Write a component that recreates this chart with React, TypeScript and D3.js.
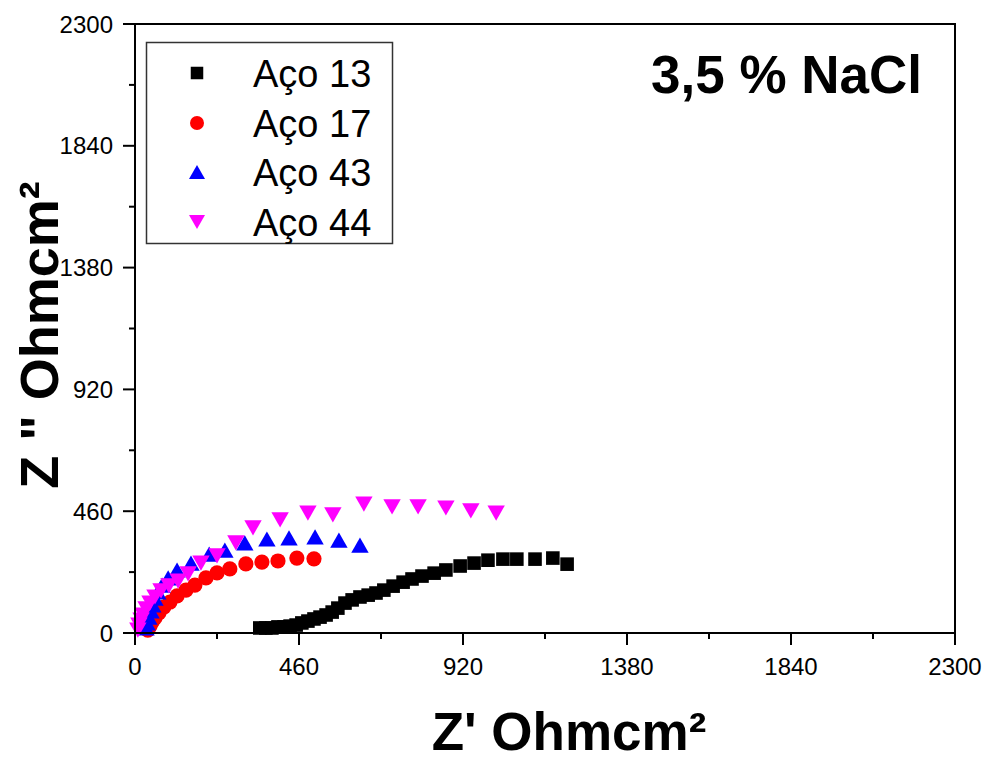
import React from "react";
import * as d3 from "d3";

const W = 989;
const H = 762;

// Nyquist data (Z' , -Z'') in Ohm·cm²
const aco13X = [350, 367, 384, 401, 418, 435, 452, 468, 485, 502, 519, 536, 553, 569, 589, 609, 631, 654, 676, 698, 724, 752, 777, 805, 839, 872, 912, 951, 990, 1032, 1071, 1122, 1172, 1212];
const aco13Y = [19, 19, 19, 23, 23, 26, 30, 38, 45, 53, 60, 68, 79, 94, 113, 125, 136, 143, 151, 162, 177, 192, 204, 215, 226, 238, 253, 264, 275, 279, 279, 279, 283, 260];

const aco17X = [36, 42, 48, 56, 67, 81, 98, 118, 143, 168, 199, 230, 266, 311, 356, 401, 454, 502];
const aco17Y = [11, 26, 42, 57, 76, 98, 117, 140, 162, 181, 208, 227, 242, 261, 268, 272, 283, 280];

const aco43X = [31, 34, 39, 45, 50, 56, 64, 76, 93, 118, 157, 208, 252, 308, 370, 432, 505, 572, 631];
const aco43Y = [19, 38, 60, 83, 106, 132, 155, 181, 208, 238, 264, 298, 313, 340, 355, 359, 363, 351, 332];

const aco44X = [8, 11, 17, 22, 31, 42, 56, 73, 95, 121, 149, 185, 230, 283, 331, 407, 485, 555, 642, 721, 794, 872, 942, 1013];
const aco44Y = [11, 30, 49, 68, 91, 113, 136, 159, 178, 196, 223, 264, 291, 340, 397, 427, 453, 446, 487, 476, 476, 472, 461, 453];

const seriesNames = ["Aço 13", "Aço 17", "Aço 43", "Aço 44"];
const seriesColors = ["#000000", "#ff0000", "#0000ff", "#ff00ff"];
const seriesShapes = ["square", "circle", "triangleUp", "triangleDown"];

const majorTicks = [0, 460, 920, 1380, 1840, 2300];
const minorTicks = [230, 690, 1150, 1610, 2070];

const FONT = "Arial, 'Liberation Sans', Helvetica, sans-serif";

function markerPath(shape: string, scale: number): string {
  if (shape === "square") {
    const h = 6.8 * scale;
    return `M${-h},${-h}H${h}V${h}H${-h}Z`;
  }
  if (shape === "circle") {
    const r = 7.6 * scale;
    return `M${r},0A${r},${r},0,1,1,${-r},0A${r},${r},0,1,1,${r},0Z`;
  }
  const w = 8.7 * scale;
  const hh = 7.6 * scale;
  if (shape === "triangleUp") {
    return `M0,${-hh}L${w},${hh}L${-w},${hh}Z`;
  }
  return `M0,${hh}L${w},${-hh}L${-w},${-hh}Z`;
}

export default function App() {
  const left = 135;
  const right = 955;
  const top = 24;
  const bottom = 633;

  const x = d3.scaleLinear().domain([0, 2300]).range([left, right]);
  const y = d3.scaleLinear().domain([0, 2300]).range([bottom, top]);

  const series = [
    { xs: aco13X, ys: aco13Y },
    { xs: aco17X, ys: aco17Y },
    { xs: aco43X, ys: aco43Y },
    { xs: aco44X, ys: aco44Y },
  ];

  const legendRowY = [73, 123, 172, 222];

  return (
    <svg
      width={W}
      height={H}
      style={{ position: "absolute", left: 0, top: 0, display: "block", background: "#fff" }}
      fontFamily={FONT}
    >
      <rect x={0} y={0} width={W} height={H} fill="#fff" />

      {/* data markers */}
      {series.map((s, si) => (
        <g key={si} fill={seriesColors[si]}>
          {s.xs.map((xv, i) => (
            <path
              key={i}
              d={markerPath(seriesShapes[si], 1)}
              transform={`translate(${x(xv)},${y(s.ys[i])})`}
            />
          ))}
        </g>
      ))}

      {/* frame */}
      <rect
        x={left}
        y={top}
        width={right - left}
        height={bottom - top}
        fill="none"
        stroke="#000"
        strokeWidth={2}
      />

      {/* x ticks */}
      {majorTicks.map((t) => (
        <g key={"xt" + t}>
          <line x1={x(t)} x2={x(t)} y1={bottom} y2={bottom + 12} stroke="#000" strokeWidth={2} />
          <text x={x(t)} y={675} textAnchor="middle" fontSize={24}>
            {t}
          </text>
        </g>
      ))}
      {minorTicks.map((t) => (
        <line key={"xm" + t} x1={x(t)} x2={x(t)} y1={bottom} y2={bottom + 6} stroke="#000" strokeWidth={2} />
      ))}

      {/* y ticks */}
      {majorTicks.map((t) => (
        <g key={"yt" + t}>
          <line x1={left - 12} x2={left} y1={y(t)} y2={y(t)} stroke="#000" strokeWidth={2} />
          <text x={113} y={y(t) + 8.5} textAnchor="end" fontSize={24}>
            {t}
          </text>
        </g>
      ))}
      {minorTicks.map((t) => (
        <line key={"ym" + t} x1={left - 6} x2={left} y1={y(t)} y2={y(t)} stroke="#000" strokeWidth={2} />
      ))}

      {/* axis titles */}
      <text x={569} y={750} textAnchor="middle" fontSize={53} fontWeight="bold">
        Z' Ohmcm²
      </text>
      <text
        transform={`translate(58,335) rotate(-90)`}
        textAnchor="middle"
        fontSize={54}
        fontWeight="bold"
      >
        Z " Ohmcm²
      </text>

      {/* annotation */}
      <text x={922} y={93} textAnchor="end" fontSize={53} fontWeight="bold">
        3,5 % NaCl
      </text>

      {/* legend */}
      <rect x={146.5} y={42.5} width={246} height={201} fill="#fff" stroke="#333" strokeWidth={1.5} />
      {seriesNames.map((name, i) => (
        <g key={name}>
          <path
            d={markerPath(seriesShapes[i], 0.92)}
            fill={seriesColors[i]}
            transform={`translate(197,${legendRowY[i]})`}
          />
          <text x={253} y={legendRowY[i] + 14} fontSize={38}>
            {name}
          </text>
        </g>
      ))}
    </svg>
  );
}
